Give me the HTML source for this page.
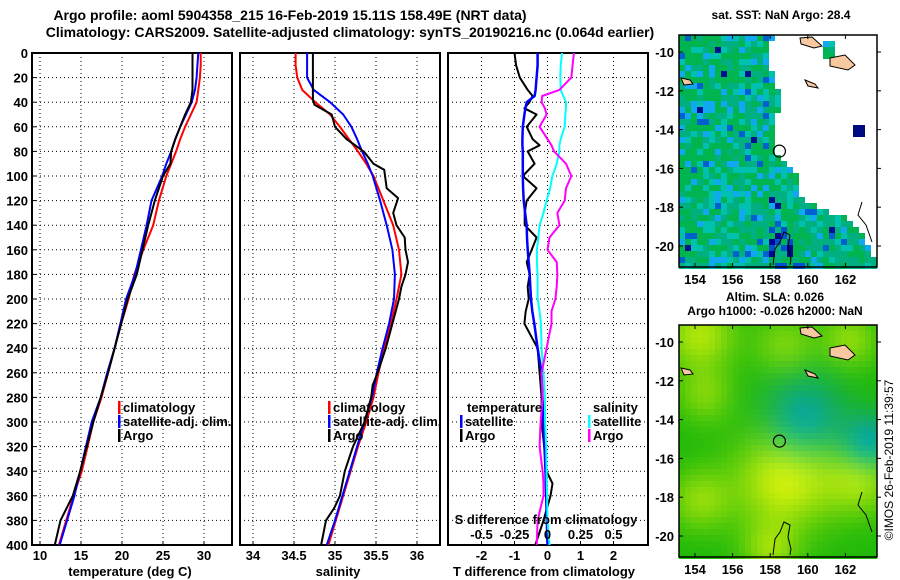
<!DOCTYPE html>
<html><head><meta charset="utf-8">
<style>
html,body{margin:0;padding:0;background:#fff;}
svg{display:block;font-family:"Liberation Sans",sans-serif;font-weight:bold;}
text{fill:#000;}
</style></head>
<body>
<svg id="fig" width="900" height="580" viewBox="0 0 900 580" xmlns="http://www.w3.org/2000/svg">
<text x="290" y="20" font-size="14" text-anchor="middle">Argo profile: aoml 5904358_215 16-Feb-2019 15.11S 158.49E (NRT data)</text>
<text x="350" y="37" font-size="14" text-anchor="middle">Climatology: CARS2009. Satellite-adjusted climatology: synTS_20190216.nc (0.064d earlier)</text>
<g id="p1"></g>
<g id="p2"></g>
<g id="p3"></g>
<g id="m1"></g>
<g id="m2"></g>
<text x="781" y="19" font-size="12" text-anchor="middle">sat. SST: NaN Argo: 28.4</text>
<text x="775" y="301" font-size="12" text-anchor="middle">Altim. SLA: 0.026</text>
<text x="775" y="315" font-size="12" text-anchor="middle">Argo h1000: -0.026 h2000: NaN</text>
<text x="0" y="0" font-size="12" font-weight="normal" text-anchor="middle" transform="translate(893,460) rotate(-90)">©IMOS 26-Feb-2019 11:39:57</text>
</svg>
<script>
// ---- data ----
const depths = [0,10,20,30,40,50,60,70,80,90,100,120,140,160,180,200,220,240,260,280,300,320,340,360,380,400];
const tempClim = [29.6,29.6,29.5,29.3,29.1,28.4,27.7,27.1,26.6,26.0,25.4,24.5,23.8,22.6,21.5,20.8,19.9,19.1,18.3,17.5,16.5,15.8,15.1,14.1,13.2,12.3];
const tempSat = [29.3,29.2,29.1,28.9,28.5,27.8,27.1,26.5,26.0,25.4,24.9,23.6,23.0,22.3,21.6,20.5,19.8,19.1,18.2,17.4,16.3,15.6,14.9,14.2,13.3,12.4];
const tempArgo = [28.6,28.6,28.6,28.6,28.4,27.7,27.1,26.5,26.0,25.9,25.0,24.0,23.2,22.5,21.8,20.7,19.9,19.1,18.3,17.4,16.5,15.7,14.9,14.0,12.5,11.8];
const salClim = [34.52,34.52,34.54,34.6,34.76,34.94,35.06,35.17,35.28,35.38,35.47,35.59,35.71,35.78,35.81,35.75,35.68,35.6,35.53,35.47,35.38,35.28,35.19,35.1,35.01,34.92];
const salSat = [34.66,34.66,34.66,34.74,34.94,35.1,35.2,35.27,35.33,35.4,35.46,35.55,35.63,35.7,35.73,35.72,35.66,35.58,35.51,35.45,35.36,35.27,35.18,35.09,35.0,34.9];
const salArgoDepths = [0,10,20,30,38,42,50,60,70,80,90,95,110,118,130,140,150,160,170,180,190,200,220,240,260,270,280,300,320,340,360,370,380,400];
const salArgo = [34.73,34.73,34.73,34.73,34.73,34.75,34.96,35.0,35.14,35.35,35.47,35.6,35.63,35.77,35.71,35.75,35.85,35.86,35.89,35.86,35.81,35.78,35.7,35.62,35.52,35.46,35.44,35.36,35.22,35.12,35.06,34.99,34.89,34.83];
const diffDepths = [0,10,20,30,35,40,45,50,60,70,75,80,90,100,110,120,130,140,150,160,170,180,190,200,210,220,240,260,280,300,320,340,350,360,380,400];
const dTempArgo = [-1.0,-0.95,-0.84,-0.6,-0.45,-0.55,-0.7,-0.33,-0.63,-0.45,-0.24,-0.6,-0.39,-0.75,-0.33,-0.63,-0.69,-0.69,-0.33,-0.48,-0.63,-0.54,-0.6,-0.57,-0.66,-0.7,-0.3,-0.24,-0.18,-0.18,-0.1,-0.03,0.15,0.09,-0.12,-0.37];
const dTempSat = [-0.3,-0.3,-0.33,-0.36,-0.39,-0.63,-0.67,-0.7,-0.75,-0.76,-0.76,-0.75,-0.75,-0.75,-0.74,-0.72,-0.68,-0.63,-0.62,-0.6,-0.57,-0.54,-0.52,-0.5,-0.46,-0.4,-0.3,-0.18,-0.15,-0.12,-0.09,-0.06,-0.05,-0.04,-0.02,0.0];
const dSalSat = [0.11,0.1,0.097,0.1,0.12,0.14,0.14,0.135,0.13,0.1,0.09,0.09,0.07,0.037,0.02,-0.007,-0.03,-0.06,-0.07,-0.08,-0.08,-0.075,-0.075,-0.075,-0.06,-0.05,-0.045,-0.03,-0.02,-0.018,-0.01,-0.007,-0.005,-0.003,0.0,0.015];
const dSalArgo = [0.2,0.19,0.18,0.09,-0.04,-0.045,-0.02,-0.007,-0.06,0.0,0.03,0.05,0.14,0.18,0.14,0.13,0.075,0.09,0.015,0.0,0.07,0.075,0.07,0.06,0.03,0.03,-0.007,-0.045,-0.037,-0.052,-0.06,-0.037,-0.03,-0.03,-0.075,-0.082];
const depthTicks = [0,20,40,60,80,100,120,140,160,180,200,220,240,260,280,300,320,340,360,380,400];
const tempTicks = [10,15,20,25,30];
const salTicks = [34,34.5,35,35.5,36];
const salTickLabels = ["34","34.5","35","35.5","36"];
const dTTicks = [-2,-1,0,1,2];
const dSTicks = [-0.5,-0.25,0,0.25,0.5];
const dSTickLabels = ["-0.5","-0.25","0","0.25","0.5"];
const lonTicks = [154,156,158,160,162];
const latTicks = [-10,-12,-14,-16,-18,-20];
const argoLon = 158.49, argoLat = -15.11;

// ---- scales ----
const TOP=53, BOT=545;
const yD = d => TOP + d*(BOT-TOP)/400;
const xT = v => 40 + (v-10)*8.2;
const xS = v => 253 + (v-34)*82;
const xDT = v => 547.5 + v*33;
const xDS = v => 547.5 + v*132;
const NS = "http://www.w3.org/2000/svg";
function el(tag, attrs, parent){const e=document.createElementNS(NS,tag);for(const k in attrs)e.setAttribute(k,attrs[k]);parent.appendChild(e);return e;}
function txt(parent,x,y,s,size,anchor){const t=el('text',{x:x,y:y,'font-size':size,'text-anchor':anchor||'middle'},parent);t.textContent=s;return t;}

function panel(g,x0,x1,xticks,xf,labels){
  for(const d of depthTicks){ if(d>0&&d<400){const l=el('line',{x1:x0,x2:x1,y1:yD(d),y2:yD(d),stroke:'#000','stroke-width':1,'stroke-dasharray':'1,3'},g);
    
    }}
  xticks.forEach((v,i)=>{const x=xf(v);const l=el('line',{x1:x,x2:x,y1:TOP,y2:BOT,stroke:'#000','stroke-width':1,'stroke-dasharray':'1,3'},g);
    
    
    el('line',{x1:x,x2:x,y1:BOT,y2:BOT-4,stroke:'#000'},g);
    const t=txt(g,x,560,labels?labels[i]:String(v),13);
    
    });
  const r=el('rect',{x:x0,y:TOP,width:x1-x0,height:BOT-TOP,fill:'none',stroke:'#000','stroke-width':2},g);
  
  
}
function line(g,xs,ds,xf,color,w,name){
  const pts=xs.map((v,i)=>xf(v).toFixed(1)+','+yD(ds[i]).toFixed(1)).join(' ');
  const p=el('polyline',{points:pts,fill:'none',stroke:color,'stroke-width':w,'stroke-linejoin':'round'},g);
  
  
}
function legItem(g,x,y,color,label){
  el('rect',{x:x,y:y-11,width:2.5,height:13,fill:color},g);
  const t=txt(g,x+5,y,label,13,'start');
  
  
}

// panel 1
const p1=document.getElementById('p1');
panel(p1,32,232,tempTicks,xT);
depthTicks.forEach(d=>{const t=txt(p1,28,yD(d)+5,String(d),13,'end');
  
  
  el('line',{x1:32,x2:36,y1:yD(d),y2:yD(d),stroke:'#000'},p1);});
line(p1,tempClim,depths,xT,'#f00',2,'temp-climatology-line');
line(p1,tempSat,depths,xT,'#00f',2,'temp-satellite-line');
line(p1,tempArgo,depths,xT,'#000',2,'temp-argo-line');
legItem(p1,118,412,'#f00','climatology');
legItem(p1,118,426,'#00f','satellite-adj. clim.');
legItem(p1,118,440,'#000','Argo');
{const t=txt(p1,130,576,'temperature (deg C)',13);}

// panel 2
const p2=document.getElementById('p2');
panel(p2,240,440,salTicks,xS,salTickLabels);
line(p2,salClim,depths,xS,'#f00',2,'sal-climatology-line');
line(p2,salSat,depths,xS,'#00f',2,'sal-satellite-line');
line(p2,salArgo,salArgoDepths,xS,'#000',2,'sal-argo-line');
legItem(p2,328,412,'#f00','climatology');
legItem(p2,328,426,'#00f','satellite-adj. clim.');
legItem(p2,328,440,'#000','Argo');
{const t=txt(p2,338,576,'salinity',13);}

// panel 3
const p3=document.getElementById('p3');
panel(p3,448,648,dTTicks,xDT);
line(p3,dTempArgo,diffDepths,xDT,'#000',2,'tdiff-argo-line');
line(p3,dTempSat,diffDepths,xDT,'#00f',2.5,'tdiff-satellite-line');
line(p3,dSalSat,diffDepths,xDS,'#0ff',2,'sdiff-satellite-line');
line(p3,dSalArgo,diffDepths,xDS,'#f0f',2,'sdiff-argo-line');
{const t=txt(p3,467,412,'temperature',13,'start');}
{const t=txt(p3,593,412,'salinity',13,'start');}
legItem(p3,460,426,'#00f','satellite');
legItem(p3,460,440,'#000','Argo');
legItem(p3,588,426,'#0ff','satellite');
legItem(p3,588,440,'#f0f','Argo');
{const t=txt(p3,546,524,'S difference from climatology',13);}
dSTicks.forEach((v,i)=>{const t=txt(p3,xDS(v),539,dSTickLabels[i],13);});
{const t=txt(p3,544,576,'T difference from climatology',13);}

// ---- maps ----
const MX0=679, MX1=877;
const lonX = lon => 695 + (lon-154)*18.8;
function latY(top){return lat => top + 17 + (-10-lat)*19.4;}
function hash(i,j){let h=(i*374761393+j*668265263)|0;h=(h^(h>>>13))*1274126177;h=h^(h>>>16);return ((h>>>0)%1000)/1000;}
function mapFrame(g,y0,y1,latF){
  lonTicks.forEach(l=>{const x=lonX(l);el('line',{x1:x,x2:x,y1:y1,y2:y1-4,stroke:'#000'},g);el('line',{x1:x,x2:x,y1:y0,y2:y0+4,stroke:'#000'},g);
    const t=txt(g,x,y1+17,String(l),13);});
  latTicks.forEach(l=>{const y=latF(l);el('line',{x1:MX0,x2:MX0+4,y1:y,y2:y,stroke:'#000'},g);el('line',{x1:MX1,x2:MX1+4,y1:y,y2:y,stroke:'#000'},g);
    const t=txt(g,674,y+5,String(l),13,'end');});
  const r=el('rect',{x:MX0,y:y0,width:MX1-MX0,height:y1-y0,fill:'none',stroke:'#000','stroke-width':1.5},g);
  
  
}
function land(g,latF){
  const pk='#f8c8a0';
  const dy=latF(-10)-52;
  [[[800,38],[812,37],[822,46],[814,48],[801,44]],[[830,58],[845,55],[855,65],[848,70],[830,66]],[[681,78],[690,80],[693,84],[684,85]],[[805,80],[815,84],[818,88],[808,86]]].forEach(poly=>{
    const p=el('polygon',{points:poly.map(q=>q[0]+','+(q[1]+dy)).join(' '),fill:pk,stroke:'#000','stroke-width':1},g);
    
    });
  const c=el('polyline',{points:[[773,268],[775,252],[780,245],[784,235],[790,238],[788,250],[791,262],[790,268]].map(q=>q[0]+','+(q[1]+dy-3)).join(' '),fill:'none',stroke:'#000','stroke-width':1},g);
  
  
  const c2=el('polyline',{points:[[862,202],[858,215],[866,225],[872,242]].map(q=>q[0]+','+(q[1]+dy)).join(' '),fill:'none',stroke:'#000','stroke-width':1},g);
  
  
  const m=el('circle',{cx:lonX(argoLon),cy:latF(argoLat),r:6,fill:'none',stroke:'#000','stroke-width':1.2},g);
  
  
}
// SST map
const m1=document.getElementById('m1'); const lat1=latY(35);
const C=6;
function inWhite(x,y){
  const bnd=[[35,770],[60,765],[80,773],[100,778],[120,770],[145,770],[175,795],[195,795],[205,820],[220,852],[267,880]];
  let bx=880; for(let k=0;k<bnd.length-1;k++){if(y>=bnd[k][0]&&y<bnd[k+1][0]){const f=(y-bnd[k][0])/(bnd[k+1][0]-bnd[k][0]);bx=bnd[k][1]+f*(bnd[k+1][1]-bnd[k][1]);}}
  if(y>=267)bx=880;
  if(x>=818&&x<830&&y>=41&&y<59)return false;
  if(x>=848&&x<860&&y>=125&&y<137)return false;
  return x>bx;
}
for(let i=0;MX0+i*C<MX1;i++)for(let j=0;35+j*C<267;j++){
  const x=MX0+i*C,y=35+j*C;
  if(inWhite(x,y))continue;
  const h=hash(i,j); const fx=(x-MX0)/100;
  let col;
  if(h<0.5-fx*0.15)col='#00b450';else if(h<0.68)col='#00b080';else if(h<0.84)col='#00c0b0';else if(h<0.94)col='#10a8f0';else if(h<0.985)col='#0060d0';else col='#001090';
  if(y>225&&x>765&&x<800&&h>0.5)col=h>0.8?'#000890':'#0050d0';
  if(x>=848&&x<860&&y>=125&&y<137)col='#000a80';
  const r=el('rect',{x:x,y:y,width:C,height:C,fill:col},m1);
  
  
}
land(m1,lat1); mapFrame(m1,35,267,lat1);
// SLA map
const m2=document.getElementById('m2'); const lat2=latY(325);
const blobs=[[700,335,25,0.8],[785,345,22,0.5],[705,395,20,0.5],[785,480,35,1.0],[860,480,25,0.7],[850,340,20,0.6],[700,500,22,0.6],[770,550,20,0.6]];
const cyanB=[[805,415,28],[870,440,20]];
for(let i=0;MX0+i*C<MX1;i++)for(let j=0;325+j*C<557;j++){
  const x=MX0+i*C+3,y=325+j*C+3;
  let v=0;blobs.forEach(b=>{v+=b[3]*Math.exp(-((x-b[0])**2+(y-b[1])**2)/(2*b[2]*b[2]));});
  let c=0;cyanB.forEach(b=>{c+=0.8*Math.exp(-((x-b[0])**2+(y-b[1])**2)/(2*b[2]*b[2]));});
  v=Math.min(1,v); c=Math.min(1,c);
  let R=Math.round(30+v*180), G=Math.round(185+v*55), B=Math.round(10+c*170);
  R=Math.round(R*(1-c)); G=Math.round(G*(1-c*0.15));
  const r=el('rect',{x:x-3,y:y-3,width:C,height:C,fill:`rgb(${R},${G},${B})`},m2);
  
  
}
land(m2,lat2); mapFrame(m2,325,557,lat2);
</script>
</body></html>
